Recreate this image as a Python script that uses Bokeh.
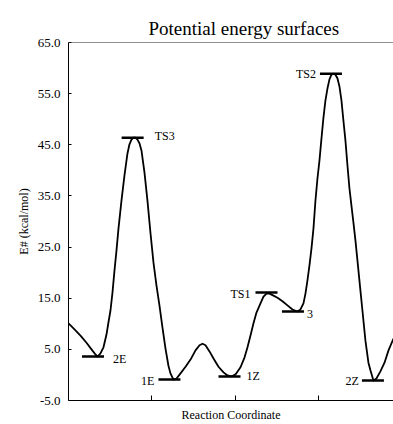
from bokeh.plotting import figure
from bokeh.models import FixedTicker, NumeralTickFormatter, Span, ColumnDataSource, Range1d
from bokeh.core.properties import value
from bokeh.embed import file_html
from bokeh.resources import INLINE

# Energy profile (reaction coordinate, kcal/mol)
curve_x = [0.000, 0.072, 0.144, 0.216, 0.276, 0.324, 0.348, 0.384, 0.420, 0.456,
           0.480, 0.504, 0.528, 0.552, 0.576, 0.600, 0.636, 0.672, 0.708, 0.732,
           0.756, 0.780, 0.804, 0.828, 0.852, 0.876, 0.912, 0.948, 0.984, 1.020,
           1.056, 1.092, 1.128, 1.164, 1.200, 1.224, 1.260, 1.297, 1.345, 1.405,
           1.465, 1.525, 1.573, 1.609, 1.645, 1.693, 1.741, 1.801, 1.861, 1.909,
           1.957, 2.005, 2.065, 2.113, 2.149, 2.185, 2.221, 2.257, 2.305, 2.341,
           2.377, 2.413, 2.461, 2.509, 2.569, 2.629, 2.689, 2.749, 2.785, 2.821,
           2.845, 2.869, 2.893, 2.917, 2.941, 2.965, 2.989, 3.013, 3.037, 3.061,
           3.085, 3.109, 3.133, 3.157, 3.181, 3.205, 3.229, 3.253, 3.277, 3.301,
           3.325, 3.349, 3.373, 3.397, 3.421, 3.445, 3.469, 3.505, 3.529, 3.565,
           3.601, 3.625, 3.661, 3.697, 3.745, 3.794, 3.842, 3.902]
curve_e = [10.1, 8.9, 7.7, 6.3, 5.0, 4.0, 3.6, 4.2, 5.4, 7.9,
           10.3, 12.6, 16.1, 20.4, 24.3, 28.6, 34.1, 39.0, 43.3, 45.1,
           46.0, 46.4, 46.4, 46.0, 45.3, 43.9, 39.6, 34.1, 27.8, 22.0,
           17.5, 13.6, 9.3, 5.2, 1.8, 0.3, -0.9, -0.7, 0.3, 1.6,
           3.0, 4.8, 5.8, 6.1, 5.8, 4.6, 3.2, 1.6, 0.5, -0.1,
           -0.3, 0.1, 1.5, 3.4, 5.4, 7.7, 10.1, 12.2, 14.0, 15.3,
           15.9, 15.9, 15.5, 15.1, 14.4, 13.6, 12.8, 12.4, 12.8, 14.0,
           15.9, 18.5, 21.4, 24.7, 28.6, 34.1, 38.4, 41.9, 46.2, 50.3,
           53.7, 56.0, 57.8, 58.7, 58.9, 58.7, 58.0, 56.4, 53.7, 49.7,
           45.8, 41.0, 36.5, 33.1, 29.8, 26.3, 22.4, 16.5, 12.6, 6.7,
           2.4, 0.9, -1.1, -0.7, 0.7, 2.4, 4.8, 7.1]

# Stationary points
species = ["2E", "TS3", "1E", "1Z", "TS1", "3", "TS2", "2Z"]
species_x = [0.294, 0.770, 1.212, 1.933, 2.377, 2.695, 3.151, 3.655]
species_e = [3.6, 46.4, -0.9, -0.3, 16.1, 12.4, 58.9, -1.1]

y_ticks = [-5, 5, 15, 25, 35, 45, 55, 65]
x_ticks = [1, 2, 3]

# label styling (side / pixel offsets)
lab_align = ["left", "left", "right", "left", "right", "left", "right", "right"]
lab_dx = [20, 22, -15, 17, -16, 14, -15, -14]
lab_dy = [2, -2, 1, 0, 1, 2, 0, 0]

SERIF = "'Liberation Serif', serif"

p = figure(width=393, height=424, output_backend="svg", toolbar_location=None,
           x_range=Range1d(0, 3.902), y_range=Range1d(-5, 65),
           min_border_left=68, min_border_right=0, min_border_top=42, min_border_bottom=24)
p.background_fill_color = "white"
p.border_fill_color = "white"
p.outline_line_color = None
p.grid.visible = False

p.line(curve_x, curve_e, line_color="black", line_width=1.8, line_join="round")

src = ColumnDataSource(dict(x=species_x, y=species_e, name=species,
                            align=lab_align, dx=lab_dx, dy=lab_dy))
p.scatter("x", "y", source=src, marker="dash", size=22, line_color="black",
          line_width=2.5, fill_color="black")
p.text("x", "y", text="name", source=src, text_align="align", x_offset="dx", y_offset="dy",
       text_baseline="middle", text_font=value(SERIF), text_font_size="12px",
       text_color="#000000")

# top frame line
p.add_layout(Span(location=65, dimension="width", line_color="#222222", line_width=1))

# title
p.title.text = "Potential energy surfaces"
p.title.text_font = SERIF
p.title.text_font_size = "19px"
p.title.text_font_style = "normal"
p.title.text_color = "black"
p.title.align = "left"
p.title.offset = 80
p.title.standoff = 8

# y axis
ya = p.yaxis[0]
ya.ticker = FixedTicker(ticks=y_ticks)
ya.formatter = NumeralTickFormatter(format="0.0")
ya.major_tick_in = 3
ya.major_tick_out = 0
ya.minor_tick_line_color = None
ya.major_label_standoff = 8
ya.major_label_text_font = SERIF
ya.major_label_text_font_size = "13px"
ya.major_label_text_color = "black"
ya.axis_line_color = "black"
ya.major_tick_line_color = "black"
ya.axis_label = "E# (kcal/mol)"
ya.axis_label_text_font = SERIF
ya.axis_label_text_font_style = "normal"
ya.axis_label_text_font_size = "12px"
ya.axis_label_text_color = "black"
ya.axis_label_standoff = 4

# x axis (ticks only, no tick labels)
xa = p.xaxis[0]
xa.ticker = FixedTicker(ticks=x_ticks)
xa.major_label_overrides = {1: "", 2: "", 3: ""}
xa.major_label_text_font_size = "1px"
xa.major_tick_in = 5
xa.major_tick_out = 0
xa.minor_tick_line_color = None
xa.major_label_standoff = 0
xa.axis_line_color = "black"
xa.major_tick_line_color = "black"
xa.axis_label = "Reaction Coordinate"
xa.axis_label_text_font = SERIF
xa.axis_label_text_font_style = "normal"
xa.axis_label_text_font_size = "12px"
xa.axis_label_text_color = "black"
xa.axis_label_standoff = 7

open("out.html", "w").write(file_html(p, INLINE))
